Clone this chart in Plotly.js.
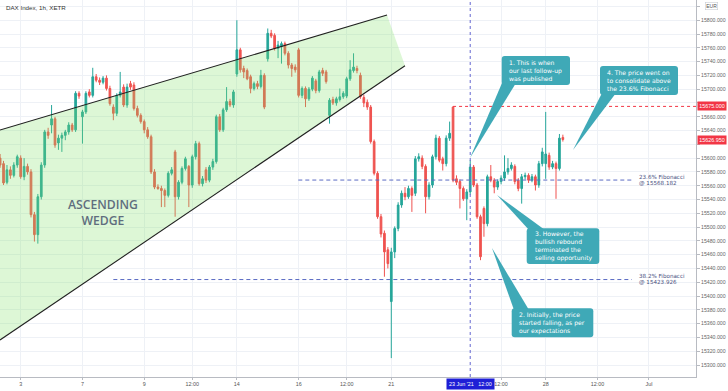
<!DOCTYPE html>
<html><head><meta charset="utf-8">
<script src="https://cdn.plot.ly/plotly-3.0.1.min.js"></script>
<style>html,body{margin:0;padding:0;background:#fff;}#chart{width:728px;height:391px;}</style>
</head><body><div id="chart"></div>
<script>
// ---- DATA (hourly bars, DAX Index XETR, from 2 Jun 2021 10:00 UTC to 28 Jun 2021 12:00 UTC) ----
const open = [
15600,15592,15565,15583,15575,15590,
15600,15573,15588,15580,15518,15489,15544,15590,15638,
15648,15657,15622,15629,15633,15638,15648,15641,15694,
15660,15667,15696,15691,15718,15713,15710,15716,15701,
15674,15665,15691,15703,15677,15708,15706,15672,15662,
15653,15641,15631,15580,15558,15556,15553,15546,15578,
15609,15544,15565,15585,15588,15561,15602,15621,15563,
15583,15568,15587,15595,15660,15641,15670,15682,15677,
15722,15757,15730,15727,15718,15701,15708,15704,15720,
15744,15781,15778,15759,15762,15766,15752,15735,15732,
15757,15691,15701,15686,15700,15712,15698,15727,15725,
15662,15685,15680,15685,15689,15690,15715,15727,15730,
15720,15688,15681,15674,15624,15578,15515,15491,15467,
15392,15464,15498,15532,15549,15544,15556,15549,15599,
15600,15588,15544,15561,15602,15629,15599,15592,15629,
15674,15570,15566,15556,15541,15551,15587,15561,15515,
15527,15505,15573,15568,15558,15566,15571,15580,15585,
15588,15568,15556,15573,15575,15568,15573,15561,15592,
15592,15604,15587,15592,15585,15630];
const high = [
15606,15596,15590,15588,15594,15605,
15604,15600,15592,15584,15522,15548,15594,15641,15644,
15677,15660,15634,15637,15641,15652,15651,15697,15697,
15670,15697,15700,15731,15722,15717,15719,15720,15705,
15678,15694,15725,15707,15708,15712,15710,15676,15665,
15656,15645,15634,15584,15562,15560,15556,15581,15587,
15612,15568,15588,15602,15590,15605,15625,15624,15574,
15587,15590,15599,15663,15664,15673,15703,15686,15699,
15800,15760,15734,15730,15721,15711,15712,15728,15723,
15788,15786,15781,15770,15769,15769,15755,15738,15736,
15760,15704,15704,15703,15719,15715,15728,15731,15728,
15687,15689,15689,15701,15697,15718,15742,15752,15734,
15724,15692,15685,15677,15627,15581,15519,15495,15471,
15470,15501,15536,15553,15558,15560,15559,15603,15607,
15604,15591,15565,15605,15634,15632,15602,15633,15653,
15675,15575,15569,15559,15555,15597,15590,15564,15518,
15530,15576,15590,15571,15569,15575,15604,15600,15594,
15591,15571,15577,15579,15578,15577,15576,15596,15615,
15667,15608,15596,15595,15635,15634];
const low = [
15586,15561,15562,15570,15572,15586,
15570,15568,15576,15514,15479,15476,15540,15586,15628,
15636,15615,15612,15609,15626,15634,15638,15638,15686,
15621,15664,15688,15688,15710,15706,15707,15698,15676,
15655,15661,15688,15674,15673,15699,15669,15659,15650,
15636,15628,15577,15555,15554,15529,15529,15543,15575,
15515,15540,15562,15582,15529,15557,15598,15560,15559,
15564,15565,15583,15592,15638,15638,15667,15674,15673,
15718,15724,15716,15713,15694,15698,15700,15701,15671,
15740,15774,15756,15745,15737,15749,15730,15718,15724,
15688,15687,15674,15683,15697,15694,15695,15719,15708,
15650,15677,15676,15682,15686,15687,15712,15724,15723,
15686,15674,15670,15621,15575,15512,15485,15428,15440,
15310,15455,15494,15528,15539,15541,15522,15545,15595,
15584,15520,15540,15557,15598,15594,15582,15588,15625,
15565,15561,15527,15538,15510,15547,15558,15512,15452,
15486,15501,15565,15549,15554,15562,15567,15576,15582,
15562,15552,15534,15569,15564,15565,15553,15557,15588,
15570,15583,15584,15541,15582,15624];
const close = [
15590,15564,15583,15575,15590,15602,
15573,15588,15580,15518,15489,15544,15590,15638,15633,
15657,15619,15629,15633,15638,15648,15641,15694,15690,
15667,15694,15691,15718,15713,15710,15716,15701,15679,
15665,15691,15696,15677,15703,15703,15672,15662,15653,
15641,15631,15580,15558,15556,15553,15546,15578,15583,
15544,15565,15585,15599,15561,15602,15621,15563,15570,
15568,15587,15595,15660,15641,15670,15682,15677,15696,
15757,15728,15725,15715,15701,15708,15704,15720,15674,
15781,15777,15759,15764,15766,15752,15735,15730,15728,
15691,15701,15686,15700,15716,15698,15725,15723,15711,
15684,15680,15686,15689,15694,15715,15728,15732,15727,
15689,15680,15674,15624,15578,15515,15490,15464,15447,
15464,15498,15532,15549,15544,15556,15546,15599,15602,
15588,15544,15561,15602,15629,15597,15592,15629,15636,
15568,15565,15556,15541,15551,15587,15561,15515,15457,
15505,15573,15568,15558,15566,15571,15580,15585,15590,
15566,15556,15573,15575,15568,15573,15561,15592,15609,
15606,15587,15592,15585,15629,15627];
const firstBar = -6; // bar index of first candle (bar 0 = 3 Jun 07:00 UTC)
const tickBars = [0, 18, 36, 50, 63, 81, 95, 108, 140, 153, 168.1, 183.1];
const tickLabels = ['3','7','9','12:00','14','16','12:00','21','12:00','28','12:00','Jul'];
const priceTicks = [15300,15320,15340,15360,15380,15400,15420,15440,15460,15480,15500,15520,15540,15560,
  15580,15600,15620,15640,15660,15680,15700,15720,15740,15760,15780,15800,15820];
const hiddenPriceTicks = [15620,15680,15820]; // covered by the price / currency badges
const fib236 = 15568.182, fib382 = 15423.926, resistance = 15675, lastPrice = 15626.95;
const markerBar = 131; // 23 Jun '21 12:00
const markerLabel = "23 Jun '21   12:00";

// ---- LAYOUT HELPERS ----
const W=728,H=391,ML=0,MR=32,MT=0,MB=14,PW=W-ML-MR,PH=H-MT-MB;
const px = x => (x-ML)/PW, py = y => 1-(y-MT)/PH;
const P = (x,y)=>px(x).toFixed(5)+','+py(y).toFixed(5);
function rrect(x0,y0,x1,y1,r){
  return 'M'+P(x0+r,y0)+' L'+P(x1-r,y0)+' Q'+P(x1,y0)+' '+P(x1,y0+r)+' L'+P(x1,y1-r)+' Q'+P(x1,y1)+' '+P(x1-r,y1)+
   ' L'+P(x0+r,y1)+' Q'+P(x0,y1)+' '+P(x0,y1-r)+' L'+P(x0,y0+r)+' Q'+P(x0,y0)+' '+P(x0+r,y0)+' Z';
}
const xs = open.map((_,k)=>k+firstBar);
const XR=[-6.03,196.8], YR=[15282.6,15829.3];

const trace = {type:'candlestick', x:xs, open:open, high:high, low:low, close:close,
  increasing:{line:{color:'#26a69a',width:1},fillcolor:'#26a69a'},
  decreasing:{line:{color:'#ef5350',width:1},fillcolor:'#ef5350'},
  whiskerwidth:0, hoverinfo:'skip', showlegend:false};

const teal='#3fa9b7';
const callouts = [
  {box:[501.7,56,570,85], tail:[[502,83],[516,83],[470,158]], tx:506.5,
   lines:['1. This is when','our last follow-up','was published']},
  {box:[600,66,678,95], tail:[[602,93],[616,93],[573,150]], tx:605,
   lines:['4. The price went on','to consolidate above','the 23.6% Fibonacci']},
  {box:[526.7,228.3,599.3,264], tail:[[529,230],[545,230],[497,195]], tx:532.5,
   lines:['3. However, the','bullish rebound','terminated the','selling opportunity']},
  {box:[511.7,308.3,593.3,337.3], tail:[[514,310],[529,310],[492,248]], tx:517,
   lines:['2. Initially, the price','started falling, as per','our expectations']}
];

const shapes = [
  {type:'path', xref:'x', yref:'y', layer:'above', line:{width:0}, fillcolor:'rgba(130,225,105,0.27)',
   path:'M -6.03,15640.75 L 106.76,15807.5 L 112.0,15734 L -6.03,15336.25 Z'},
  {type:'line', xref:'x', yref:'y', layer:'above', x0:-6.03, y0:15640.75, x1:106.76, y1:15807.5, line:{color:'#202020',width:1.1}},
  {type:'line', xref:'x', yref:'y', layer:'above', x0:-6.03, y0:15336.25, x1:112.0, y1:15734, line:{color:'#202020',width:1.1}},
  {type:'line', xref:'x', yref:'y', layer:'above', x0:80.9, x1:178.1, y0:fib236, y1:fib236, line:{color:'#5b6cc4',width:1,dash:'4px,3px'}},
  {type:'line', xref:'x', yref:'y', layer:'above', x0:27, x1:178.1, y0:fib382, y1:fib382, line:{color:'#5b6cc4',width:1,dash:'4px,3px'}},
  {type:'line', xref:'x', yref:'y', layer:'above', x0:126, x1:XR[1], y0:resistance, y1:resistance, line:{color:'#f23645',width:1,dash:'dot'}},
  {type:'line', xref:'x', yref:'paper', layer:'above', x0:markerBar, x1:markerBar, y0:0, y1:1, line:{color:'#6466d0',width:1,dash:'dot'}}
];
const annotations = [
  {xref:'paper', yref:'paper', x:px(4), y:py(7), xanchor:'left', yanchor:'middle', showarrow:false,
   text:'DAX Index, 1h, XETR', font:{family:'Liberation Sans, Arial', size:6.2, color:'#333'}},
  {xref:'paper', yref:'paper', x:px(102.5), y:py(212), xanchor:'center', yanchor:'middle', showarrow:false, align:'center',
   text:'ASCENDING<br>WEDGE', font:{family:'Open Sans', size:12.2, color:'#5f6e7e', weight:600}},
];
function addLines(lines,x,y,dy,font){
  lines.forEach((t,k)=>annotations.push({xref:'paper',yref:'paper',x:px(x),y:py(y+k*dy),xanchor:'left',yanchor:'middle',
    showarrow:false,text:t,font:font}));
}
const fibFont = {family:'DejaVu Sans', size:5.6, color:'#4a5080'};
addLines(['23.6% Fibonacci','@ '+fib236.toFixed(3)], 636.5, 177.3, 6, fibFont);
addLines(['38.2% Fibonacci','@ '+fib382.toFixed(3)], 636.5, 276.3, 6, fibFont);
callouts.forEach(c=>{
  const [x0,y0,x1,y1]=c.box;
  shapes.push({type:'path', xref:'paper', yref:'paper', layer:'above', line:{width:0}, fillcolor:teal,
    path:'M'+P(c.tail[0][0],c.tail[0][1])+' L'+P(c.tail[1][0],c.tail[1][1])+' L'+P(c.tail[2][0],c.tail[2][1])+' Z'});
  shapes.push({type:'path', xref:'paper', yref:'paper', layer:'above', line:{width:0}, fillcolor:teal, path:rrect(x0,y0,x1,y1,3)});
  annotations.push({xref:'paper', yref:'paper', x:px(c.tx), y:py((y0+y1)/2), xanchor:'left', yanchor:'middle', align:'left',
    showarrow:false, text:c.lines.join('<br>'), font:{family:'DejaVu Sans', size:6.1, color:'#ffffff'}});
});
// price labels on right axis
[[resistance,'15675.000'],[lastPrice,lastPrice.toFixed(3)]].forEach(([v,t])=>annotations.push({
  xref:'paper', yref:'y', x:px(697), y:v, xanchor:'left', yanchor:'middle', showarrow:false, text:t,
  bgcolor:'#f23645', borderpad:1.2, font:{family:'Liberation Sans, Arial', size:5.4, color:'#fff'}}));
annotations.push({xref:'paper', yref:'paper', x:px(711), y:py(6.3), xanchor:'center', yanchor:'middle', showarrow:false,
  text:'EUR', bgcolor:'#fff', bordercolor:'#c8cbd2', borderwidth:0.6, borderpad:0.6, font:{family:'Liberation Sans, Arial', size:5, color:'#555'}});
annotations.push({xref:'x', yref:'paper', x:markerBar, y:0, xanchor:'center', yanchor:'top', yshift:-1, showarrow:false,
  text:markerLabel, bgcolor:'#1f1fd6', borderpad:2, font:{family:'Liberation Sans, Arial', size:5.4, color:'#fff'}});

const layout = {
  width:W, height:H, margin:{l:ML,r:MR,t:MT,b:MB,pad:0},
  paper_bgcolor:'#fff', plot_bgcolor:'#fff', showlegend:false,
  xaxis:{range:XR, tickmode:'array', tickvals:tickBars, ticktext:tickLabels, showgrid:true, gridcolor:'#eef1f6', gridwidth:1,
    zeroline:false, showline:true, linecolor:'#b8bbc2', ticks:'outside', ticklen:2, tickcolor:'#b8bbc2',
    tickfont:{family:'Liberation Sans, Arial', size:5.4, color:'#555'}, rangeslider:{visible:false}, fixedrange:true},
  yaxis:{side:'right', range:YR, tickmode:'array', tickvals:priceTicks,
    ticktext:priceTicks.map(v=>hiddenPriceTicks.includes(v)?'':v.toFixed(3)),
    showgrid:true, gridcolor:'#eef1f6', gridwidth:1,
    zeroline:false, showline:true, linecolor:'#b8bbc2', ticks:'outside', ticklen:3, tickcolor:'#b8bbc2',
    tickfont:{family:'Liberation Sans, Arial', size:5.2, color:'#666'}, fixedrange:true},
  shapes:shapes, annotations:annotations
};
Plotly.newPlot('chart',[trace],layout,{staticPlot:true,displayModeBar:false});
</script></body></html>
